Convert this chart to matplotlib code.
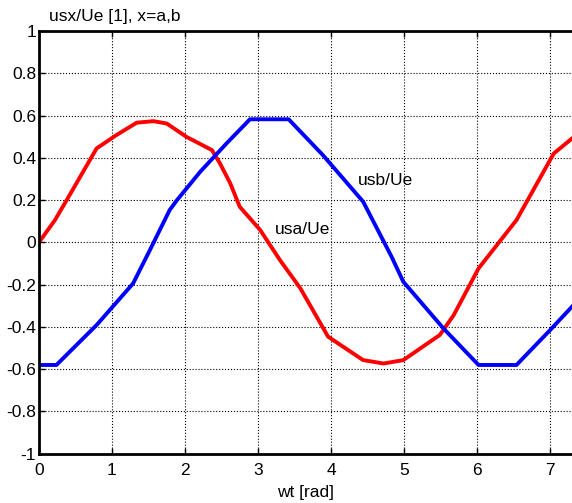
import matplotlib
matplotlib.use("Agg")
import matplotlib.pyplot as plt

# usa/Ue (red), points
wt_a = [0.0, 0.22, 0.38, 0.79, 1.06, 1.34, 1.57, 1.75, 2.02, 2.37, 2.48, 2.62,
        2.75, 3.03, 3.30, 3.58, 3.96, 4.44, 4.72, 4.99, 5.49, 5.68, 6.02,
        6.54, 7.05, 7.30]
usa = [0.0, 0.106, 0.20, 0.445, 0.508, 0.567, 0.574, 0.563, 0.50, 0.437,
       0.374, 0.28, 0.169, 0.059, -0.083, -0.217, -0.446, -0.557, -0.573,
       -0.557, -0.438, -0.344, -0.123, 0.106, 0.421, 0.492]

# usb/Ue (blue)
wt_b = [0.0, 0.24, 0.79, 1.29, 1.52, 1.79, 1.89, 2.21, 2.57, 2.89, 3.42,
        3.89, 4.44, 4.83, 4.99, 5.54, 6.02, 6.54, 7.0, 7.30]
usb = [-0.58, -0.58, -0.391, -0.194, -0.036, 0.153, 0.2, 0.335, 0.469,
       0.583, 0.583, 0.413, 0.193, -0.068, -0.186, -0.407, -0.58, -0.58,
       -0.415, -0.304]

xticks = [0, 1, 2, 3, 4, 5, 6, 7]
yticks = [-1, -0.8, -0.6, -0.4, -0.2, 0, 0.2, 0.4, 0.6, 0.8, 1]
ylabels = ['-1', '-0.8', '-0.6', '-0.4', '-0.2', '0', '0.2', '0.4', '0.6', '0.8', '1']

plt.rcParams['font.family'] = ['Liberation Sans', 'DejaVu Sans']
fs = 12.5

fig = plt.figure(figsize=(5.72, 5.03), dpi=100)
ax = fig.add_axes([0.068, 0.098, 0.932, 0.840])

ax.plot(wt_a, usa, color='red', lw=2.8, solid_joinstyle='round')
ax.plot(wt_b, usb, color='blue', lw=2.8, solid_joinstyle='round')

ax.set_xlim(0, 7.3)
ax.set_ylim(-1, 1)
ax.set_xticks(xticks)
ax.set_yticks(yticks)
ax.set_yticklabels(ylabels)
ax.grid(True, color='black', linestyle=':', linewidth=0.8)
ax.tick_params(direction='in', top=True, right=False, length=4, width=1,
               labelsize=fs)
ax.tick_params(axis='x', pad=7)
ax.tick_params(axis='y', pad=2)
for s in ['left', 'bottom', 'top']:
    ax.spines[s].set_linewidth(2)
ax.spines['right'].set_visible(False)

ax.text(3.23, 0.063, 'usa/Ue', fontsize=fs, va='center')
ax.text(4.37, 0.295, 'usb/Ue', fontsize=fs, va='center')

fig.text(49 / 572, 1 - 17 / 503, 'usx/Ue [1], x=a,b', fontsize=fs, va='center')
ax.set_xlabel('wt [rad]', fontsize=fs, labelpad=5)

fig.savefig('out.png', dpi=100)
